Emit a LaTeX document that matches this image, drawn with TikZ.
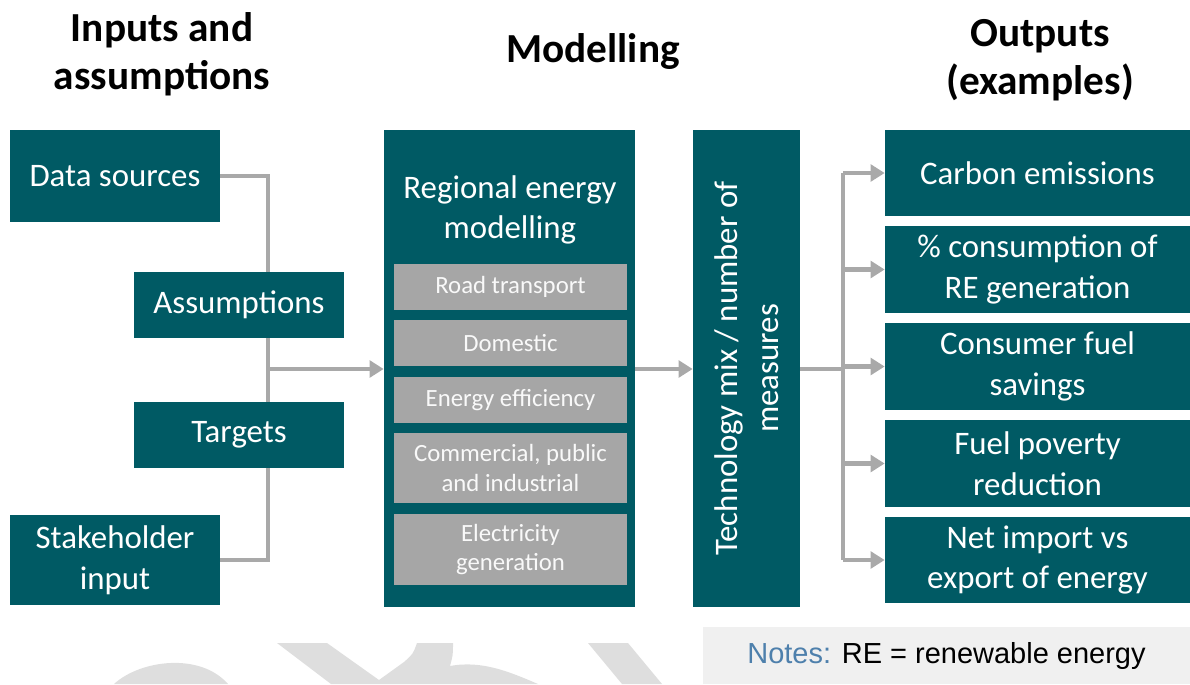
\documentclass[tikz,border=0pt]{standalone}
\usepackage{fontspec}
\setmainfont{Carlito}
\newfontfamily\notefont{Liberation Sans}
\usepackage{tikz}
\usetikzlibrary{backgrounds}
\usetikzlibrary{calc}
\usetikzlibrary{arrows.meta}
\definecolor{modteal}{HTML}{005A64}
\definecolor{subgray}{HTML}{A6A6A6}
\definecolor{linegray}{HTML}{A9A9A9}
\definecolor{wmgray}{HTML}{DEDEDE}
\definecolor{notesbg}{HTML}{F0F0F0}
\definecolor{notesblue}{HTML}{4E80AC}
\newcommand{\headfont}{\bfseries\fontsize{23.5}{27.2}\selectfont}
\newcommand{\bodyfont}{\fontsize{18.7}{23.2}\selectfont}
\newcommand{\subfont}{\fontsize{14.1}{17}\selectfont}
\newcommand{\inboxw}{4.2cm}
\newcommand{\subboxw}{4.66cm}
\newcommand{\outboxw}{6.1cm}
\newcommand{\busx}{268}
\newcommand{\splitx}{843}
\newcommand{\midy}{369}
\tikzset{
  head/.style={align=center, font=\headfont},
  inbox/.style={fill=modteal, text=white, align=center, inner sep=0pt,
    minimum width=\inboxw, font=\bodyfont},
  colbox/.style={fill=modteal, inner sep=0pt, minimum height=9.54cm},
  subbox/.style={fill=subgray, text=white!95!gray, align=center, inner sep=0pt,
    minimum width=\subboxw, font=\subfont},
  outbox/.style={fill=modteal, text=white, align=center, inner sep=0pt,
    minimum width=\outboxw, font=\bodyfont},
  conn/.style={draw=linegray, line width=2.8pt},
  arr/.style={conn, -{Triangle[length=8pt,width=9.5pt]}},
  wmark/.style={fill=wmgray}
}

\begin{document}
\begin{tikzpicture}[x=0.02cm, y=-0.02cm]
    \useasboundingbox (0,0) rectangle (1190,684);

    % watermark remains
    \fill[wmark] (114,684) .. controls (140,660) and (200,652) .. (228,684) -- cycle;
    \fill[wmark] (277,643) -- (327,643) -- (379,680) -- (404,662)
      .. controls (413,654) .. (417,643) -- (453,643)
      .. controls (453,655) .. (450,666)
      .. controls (482,660) and (510,672) .. (538,684) -- (331,684) -- cycle;
    \fill[wmark] (588,643) -- (628,643) -- (662,684) -- (622,684) -- cycle;

    % headings
    \node[head] (hinputs) at (162,54) {Inputs and\\assumptions};
    \node[head] (hmodel) at (593,52) {Modelling};
    \node[head] (houtputs) at (1040,60) {Outputs\\(examples)};

    % inputs part
    \node[inbox, minimum height=1.84cm] (datasrc) at (115,176) {Data sources};
    \node[inbox, minimum height=1.32cm] (assume) at (239,305) {Assumptions};
    \node[inbox, minimum height=1.32cm] (targets) at (239,435) {Targets};
    \node[inbox, minimum height=1.8cm] (stake) at (115,560) {Stakeholder\\input};

    % modelling part
    \node[colbox, minimum width=5.02cm] (model) at (509.5,368.5) {};
    \node[align=center, text=white, font=\bodyfont] (mtitle) at (510,210)
      {Regional energy\\modelling};
    \node[subbox, minimum height=0.92cm] (road) at (510.5,287) {Road transport};
    \node[subbox, minimum height=0.92cm] (domestic) at (510.5,343) {Domestic};
    \node[subbox, minimum height=0.92cm] (effic) at (510.5,400) {Energy efficiency};
    \node[subbox, minimum height=1.4cm] (commerce) at (510.5,468)
      {Commercial, public\\and industrial};
    \node[subbox, minimum height=1.42cm] (elec) at (510.5,549.5)
      {Electricity\\generation};

    % technology part
    \node[colbox, minimum width=2.14cm] (tech) at (746.5,368.5) {};
    \node[rotate=90, align=center, text=white, font=\bodyfont] (techtxt)
      at (tech) {Technology mix / number of\\measures};

    % outputs part
    \node[outbox, minimum height=1.72cm] (carbon) at (1037.5,173) {Carbon emissions};
    \node[outbox, minimum height=1.74cm] (recons) at (1037.5,269.5)
      {\% consumption of\\RE generation};
    \node[outbox, minimum height=1.74cm] (savings) at (1037.5,366.5)
      {Consumer fuel\\savings};
    \node[outbox, minimum height=1.74cm] (poverty) at (1037.5,463.5)
      {Fuel poverty\\reduction};
    \node[outbox, minimum height=1.72cm] (netimp) at (1037.5,560)
      {Net import vs\\export of energy};

    % notes
    \node[fill=notesbg, minimum width=9.74cm, minimum height=1.14cm,
      font=\notefont\fontsize{16.5}{19}\selectfont] (notes) at (946.5,655.5)
      {\textcolor{notesblue}{Notes:} RE = renewable energy};

    % connectors
    \coordinate (bustop) at (\busx,176);
    \coordinate (busbot) at (\busx,560);
    \coordinate (busmid) at (\busx,\midy);
    \coordinate (split) at (\splitx,\midy);
    \begin{scope}[on background layer]
      \draw[conn] (datasrc.east) -- (bustop) -- (busbot) -- (stake.east);
    \end{scope}
    \draw[arr] (busmid) -- (busmid -| model.west);
    \draw[arr] (model.east |- busmid) -- (busmid -| tech.west);
    \draw[conn] (tech.east |- split) -- (split);
    \draw[conn] (split |- carbon) -- (split |- netimp);
    \foreach \out in {carbon, recons, savings, poverty, netimp}
      \draw[arr] (split |- \out) -- (\out.west);
  \end{tikzpicture}
\end{document}
